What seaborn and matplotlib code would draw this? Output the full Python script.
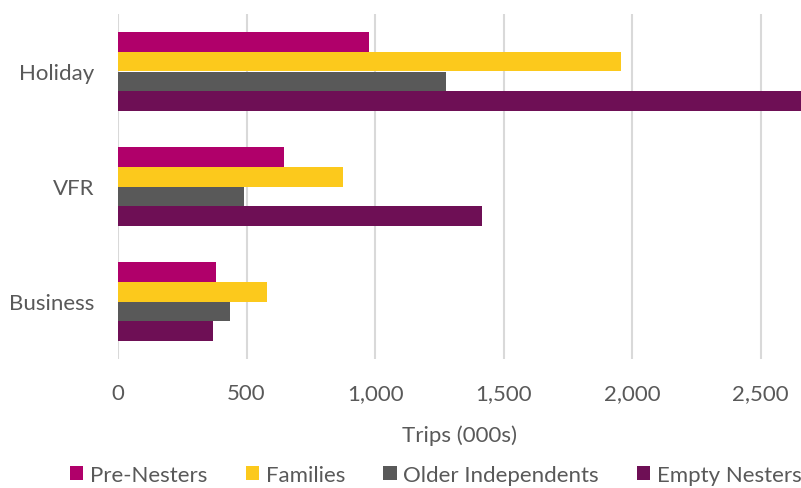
import matplotlib
matplotlib.use("Agg")
import matplotlib.pyplot as plt
import seaborn as sns
import pandas as pd

# Trips (000s) by purpose and lifestage
purposes = ["Holiday", "VFR", "Business"]
segments = ["Pre-Nesters", "Families", "Older Independents", "Empty Nesters"]
pre_nesters = [977, 647, 380]
families = [1956, 875, 580]
older_independents = [1277, 491, 436]
empty_nesters = [2750, 1416, 370]
palette = ["#B0006A", "#FCC91C", "#595959", "#6E0F55"]

rows = []
for seg, vals in zip(segments, [pre_nesters, families, older_independents, empty_nesters]):
    for p, v in zip(purposes, vals):
        rows.append({"Purpose": p, "Segment": seg, "Trips": v})
df = pd.DataFrame(rows)

sns.set_theme(style="white")
plt.rcParams["font.family"] = ["Lato", "DejaVu Sans"]
text_col = "#595959"

fig = plt.figure(figsize=(8.01, 4.89), dpi=100)
ax = fig.add_axes([118 / 801, 1 - 360 / 489, (801 - 118) / 801, 345 / 489])

sns.barplot(data=df, y="Purpose", x="Trips", hue="Segment", order=purposes,
            hue_order=segments, palette=palette, orient="h", width=0.685,
            saturation=1, errorbar=None, linewidth=0, ax=ax, zorder=3)

ax.set_xlim(0, 2657)
ax.set_ylim(2.5, -0.5)
ax.set_xticks([0, 500, 1000, 1500, 2000, 2500])
ax.set_xticklabels(["0", "500", "1,000", "1,500", "2,000", "2,500"])
ax.grid(axis="x", color="#D9D9D9", linewidth=1.5, zorder=0)
ax.grid(axis="y", visible=False)
for s in ax.spines.values():
    s.set_visible(False)
ax.tick_params(axis="both", length=0, labelsize=16, colors=text_col)
ax.tick_params(axis="y", pad=17)
ax.tick_params(axis="x", pad=17)
ax.set_ylabel("")
ax.set_xlabel("Trips (000s)", fontsize=16, color=text_col, labelpad=16)

handles, labels = ax.get_legend_handles_labels()
ax.legend_.remove()
fig.legend(handles, labels, loc="center", bbox_to_anchor=(436 / 801, 1 - 476 / 489),
           ncol=4, frameon=False, fontsize=16, handlelength=0.6, handleheight=0.6,
           handletextpad=0.3, columnspacing=1.72, labelcolor=text_col,
           borderpad=0.1)

fig.savefig("out.png", dpi=100)
